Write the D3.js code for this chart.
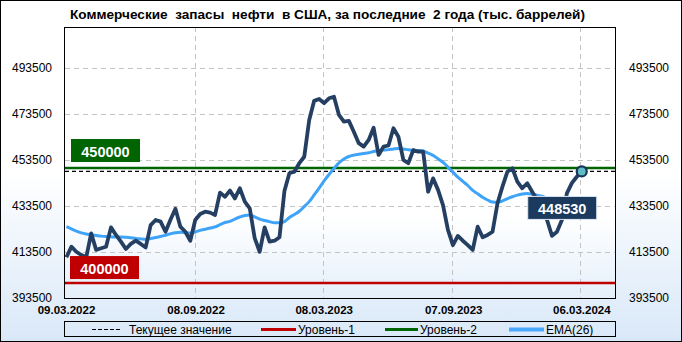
<!DOCTYPE html>
<html>
<head>
<meta charset="utf-8">
<script src="https://cdn.jsdelivr.net/npm/d3@7"></script>
<style>
  body { margin: 0; background: #fff; }
  svg text { font-family: "Liberation Sans", Arial, sans-serif; }
</style>
</head>
<body>
<svg id="chart" width="682" height="342"></svg>
<script>
// weekly data, first report date (week ending Friday)
const firstDate = "2022-03-11";

const stocks = [
  411200, 415800, 413600, 412200, 411200, 421600, 414400, 415100, 415800, 424200,
  420900, 418000, 414800, 417000, 418400, 417000, 415500, 425200, 427400, 426700,
  422300, 427500, 432300, 424500, 422300, 418400, 427400, 430000, 431000, 430600,
  429600, 439300, 437500, 440200, 436800, 441200, 435400, 432500, 419500, 413600,
  424200, 418000, 418400, 419900, 440000, 447700, 448400, 452100, 454900, 470900,
  479200, 480000, 478200, 480300, 481000, 473100, 470200, 470500, 465800, 460800,
  459300, 462200, 467500, 455700, 459300, 459800, 467300, 463600, 453500, 452100,
  457800, 457100, 457100, 439700, 445500, 440500, 433900, 423100, 416500, 420500,
  418400, 416500, 414400, 424500, 419900, 420900, 422300, 434700, 441900, 448400,
  449900, 444100, 441200, 443400, 439700, 436100, 431000, 427400, 420500, 422300,
  427400, 439000, 443400, 446200, 448530
];

const ema26 = [
  424500, 423600, 422600, 421800, 421300, 421000, 420700, 420400, 420200, 420100,
  420000, 420000, 419900, 419700, 419400, 419200, 419000, 419400, 419800, 420200,
  420800, 421400, 421900, 422100, 421900, 421700, 422200, 422900, 423400, 423900,
  424400, 425400, 426300, 426800, 427800, 428700, 429400, 429600, 428800, 427800,
  427200, 426700, 426200, 426200, 426700, 428500, 429800, 431200, 433200, 435400,
  438300, 441300, 444400, 447200, 449800, 452200, 453900, 455000, 455600, 456000,
  456300, 456600, 457200, 457600, 457800, 458000, 458300, 458500, 458300, 457900,
  457700, 457600, 457400, 456500, 455500, 454000, 452500, 450400, 448200, 446000,
  444200, 442400, 440300, 438800, 437300, 436100, 435200, 435100, 435700, 436700,
  437500, 438200, 438700, 438900, 438600, 438200, 437700, 437000, 436600, 436200,
  435900, 435800, 435900, 436100, 436300
];

const yTicks = [393500, 413500, 433500, 453500, 473500, 493500];
const xTickDates = ["2022-03-09", "2022-09-08", "2023-03-08", "2023-09-07", "2024-03-06"];
const level1 = 400000;
const level2 = 450000;
const legendLabels = ["Текущее значение", "Уровень-1", "Уровень-2", "EMA(26)"];
const title = "Коммерческие  запасы  нефти  в США, за последние  2 года (тыс. баррелей)";

const W = 682, H = 342;
const plot = { left: 65, right: 615, top: 27, bottom: 298 };

const parse = d3.timeParse("%Y-%m-%d");
const start = parse(firstDate);
const dates = stocks.map((d, i) => d3.timeWeek.offset(start, i));
const current = stocks[stocks.length - 1];

const svg = d3.select("#chart");
const defs = svg.append("defs");

const bgGrad = defs.append("linearGradient").attr("id", "bg").attr("x1", 0).attr("x2", 0).attr("y1", 0).attr("y2", 1);
bgGrad.append("stop").attr("offset", "0").attr("stop-color", "#ffffff");
bgGrad.append("stop").attr("offset", "0.5").attr("stop-color", "#ffffff");
bgGrad.append("stop").attr("offset", "1").attr("stop-color", "#d9e8f8");

const plotGrad = defs.append("linearGradient").attr("id", "plotbg").attr("x1", 0).attr("x2", 0).attr("y1", 0).attr("y2", 1);
plotGrad.append("stop").attr("offset", "0").attr("stop-color", "#ffffff");
plotGrad.append("stop").attr("offset", "0.7").attr("stop-color", "#ffffff");
plotGrad.append("stop").attr("offset", "1").attr("stop-color", "#e4effb");

svg.append("rect").attr("x", 0.5).attr("y", 0.5).attr("width", W - 1).attr("height", H - 1)
  .attr("fill", "url(#bg)").attr("stroke", "#000");

svg.append("rect").attr("x", plot.left - 0.5).attr("y", plot.top + 0.5)
  .attr("width", plot.right - plot.left + 1).attr("height", plot.bottom - plot.top)
  .attr("fill", "url(#plotbg)");

// scales
const x = d3.scaleTime()
  .domain([parse("2022-03-09"), parse("2024-04-24")])
  .range([plot.left, plot.right]);

const y = d3.scaleLinear()
  .domain([393500, 511300])
  .range([plot.bottom, plot.top]);

// grid
svg.append("g").selectAll("line").data(yTicks.slice(1)).join("line")
  .attr("x1", plot.left).attr("x2", plot.right)
  .attr("y1", d => Math.round(y(d)) + 0.5).attr("y2", d => Math.round(y(d)) + 0.5)
  .attr("stroke", "#c4c4c4").attr("stroke-dasharray", "5,4");

svg.append("g").selectAll("line").data(xTickDates.slice(1)).join("line")
  .attr("x1", d => Math.round(x(parse(d))) + 0.5).attr("x2", d => Math.round(x(parse(d))) + 0.5)
  .attr("y1", plot.top).attr("y2", plot.bottom)
  .attr("stroke", "#c4c4c4").attr("stroke-dasharray", "5,4");

// y axes on both sides
const yLeft = svg.append("g").attr("transform", `translate(${plot.left - 13},0)`)
  .call(d3.axisLeft(y).tickValues(yTicks).tickSize(0).tickPadding(0).tickFormat(d3.format("d")));
const yRight = svg.append("g").attr("transform", `translate(${plot.right + 14},0)`)
  .call(d3.axisRight(y).tickValues(yTicks).tickSize(0).tickPadding(0).tickFormat(d3.format("d")));
[yLeft, yRight].forEach(g => {
  g.select(".domain").remove();
  g.selectAll("text").attr("font-family", "DejaVu Sans").attr("font-size", 12).attr("fill", "#000");
});

const xAxis = svg.append("g").attr("transform", `translate(1,${plot.bottom + 8})`)
  .call(d3.axisBottom(x).tickValues(xTickDates.map(parse)).tickSize(0).tickPadding(0)
    .tickFormat(d3.timeFormat("%d.%m.%Y")));
xAxis.select(".domain").remove();
xAxis.selectAll("text").attr("font-family", "Liberation Sans").attr("font-weight", "bold")
  .attr("font-size", 11.5).attr("fill", "#000");

// level lines
svg.append("line").attr("x1", plot.left).attr("x2", plot.right)
  .attr("y1", y(level1)).attr("y2", y(level1)).attr("stroke", "#c00000").attr("stroke-width", 2.5);
svg.append("line").attr("x1", plot.left).attr("x2", plot.right)
  .attr("y1", y(level2)).attr("y2", y(level2)).attr("stroke", "#006400").attr("stroke-width", 2.5);
svg.append("line").attr("x1", plot.left).attr("x2", plot.right)
  .attr("y1", y(current)).attr("y2", y(current)).attr("stroke", "#000").attr("stroke-width", 1.2)
  .attr("stroke-dasharray", "4,3");

// EMA and main series
svg.append("path").datum(ema26)
  .attr("fill", "none").attr("stroke", "#3fa4f8").attr("stroke-width", 3)
  .attr("stroke-linejoin", "round")
  .attr("d", d3.line().x((d, i) => x(dates[i])).y(d => y(d)).curve(d3.curveMonotoneX));

svg.append("path").datum(stocks)
  .attr("fill", "none").attr("stroke", "#243f62").attr("stroke-width", 3.8)
  .attr("stroke-linejoin", "round")
  .attr("d", d3.line().x((d, i) => x(dates[i])).y(d => y(d)));

const lastX = x(dates[dates.length - 1]);
svg.append("circle").attr("cx", lastX).attr("cy", y(current)).attr("r", 5)
  .attr("fill", "#5fbcc6").attr("stroke", "#1a3358").attr("stroke-width", 2.2);

// value boxes
const valueBox = (bx, by, text, fill, stroke) => {
  svg.append("rect").attr("x", bx).attr("y", by).attr("width", 69).attr("height", 23)
    .attr("fill", fill).attr("stroke", stroke || "none");
  svg.append("text").attr("x", bx + 34.5).attr("y", by + 17.5).attr("text-anchor", "middle")
    .attr("font-family", "DejaVu Sans").attr("font-weight", "bold").attr("font-size", 14.5)
    .attr("fill", "#fff").text(text);
};
valueBox(71, y(level2) - 29, d3.format("d")(level2), "#006400");
valueBox(70, y(level1) - 27, d3.format("d")(level1), "#c00000");
valueBox(lastX - 54, y(current) + 25, d3.format("d")(current), "#1b3a5e", "#dfe9f5");

// plot border
svg.append("rect").attr("x", plot.left - 0.5).attr("y", plot.top + 0.5)
  .attr("width", plot.right - plot.left + 1).attr("height", plot.bottom - plot.top)
  .attr("fill", "none").attr("stroke", "#000");

// title
svg.append("text").attr("x", 70).attr("y", 19)
  .attr("font-weight", "bold").attr("font-size", 13).attr("fill", "#000")
  .attr("textLength", 515).attr("lengthAdjust", "spacingAndGlyphs")
  .style("white-space", "pre").text(title);

// legend
const legend = svg.append("g");
legend.append("rect").attr("x", plot.left - 0.5).attr("y", 321.5).attr("width", plot.right - plot.left + 1)
  .attr("height", 15).attr("fill", "none").attr("stroke", "#000");
const legendItems = [
  { x1: 92, x2: 122, color: "#000", width: 1, dash: "4,2", tx: 129 },
  { x1: 261, x2: 296, color: "#c00000", width: 3, dash: null, tx: 298 },
  { x1: 385, x2: 418, color: "#006400", width: 3, dash: null, tx: 420 },
  { x1: 509, x2: 544, color: "#4aa8ff", width: 4, dash: null, tx: 546 }
];
legendItems.forEach((d, i) => {
  legend.append("line").attr("x1", d.x1).attr("x2", d.x2).attr("y1", 329.5).attr("y2", 329.5)
    .attr("stroke", d.color).attr("stroke-width", d.width).attr("stroke-dasharray", d.dash);
  legend.append("text").attr("x", d.tx).attr("y", 334).attr("font-size", 12).attr("fill", "#000")
    .text(legendLabels[i]);
});
</script>
</body>
</html>
